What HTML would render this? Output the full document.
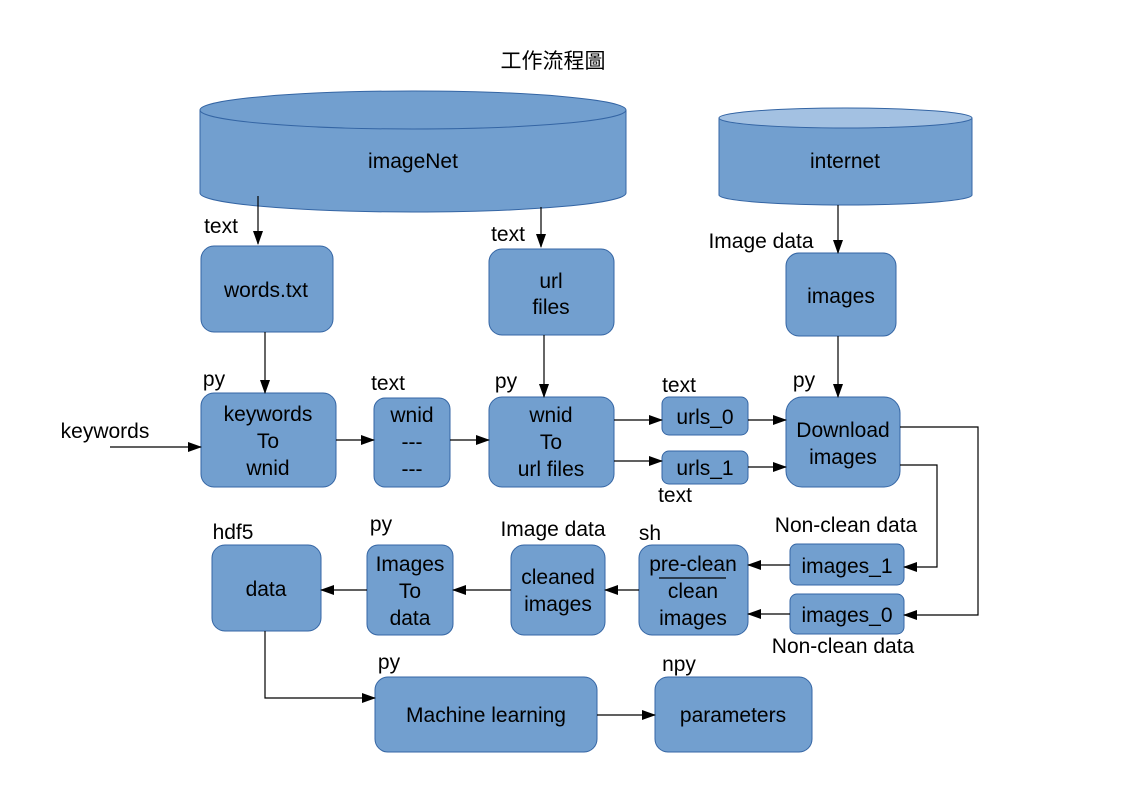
<!DOCTYPE html>
<html><head><meta charset="utf-8"><style>body{margin:0;background:#fff}svg{display:block}text{font-family:"Liberation Sans","Noto Sans CJK TC",sans-serif;font-size:21px;fill:#000}</style></head><body>
<svg width="1123" height="794" viewBox="0 0 1123 794">
<defs><marker id="a" markerWidth="14" markerHeight="10" refX="13" refY="5" orient="auto" markerUnits="userSpaceOnUse"><path d="M0,0 L14,5 L0,10 z" fill="#000"/></marker></defs>
<g fill="#729fcf" stroke="#3465a4" stroke-width="1">
<path d="M200,110 L200,193 A213,19 0 0 0 626,193 L626,110"/>
<ellipse cx="413" cy="110" rx="213" ry="19"/>
<path d="M719,118 L719,195 A126.5,10 0 0 0 972,195 L972,118"/>
<ellipse cx="845.5" cy="118" rx="126.5" ry="10" fill="#a3c1e2"/>
<rect x="201" y="246" width="132" height="86" rx="13"/>
<rect x="489" y="249" width="125" height="86" rx="13"/>
<rect x="786" y="253" width="110" height="83" rx="13"/>
<rect x="201" y="393" width="135" height="94" rx="13"/>
<rect x="374" y="398" width="76" height="89" rx="11"/>
<rect x="489" y="397" width="125" height="90" rx="13"/>
<rect x="662" y="397" width="86" height="38" rx="7"/>
<rect x="662" y="451" width="86" height="33" rx="7"/>
<rect x="786" y="397" width="114" height="90" rx="16"/>
<rect x="790" y="544" width="114" height="41" rx="7"/>
<rect x="790" y="594" width="114" height="40" rx="7"/>
<rect x="639" y="545" width="109" height="90" rx="13"/>
<rect x="511" y="545" width="94" height="90" rx="13"/>
<rect x="367" y="545" width="86" height="90" rx="11"/>
<rect x="212" y="545" width="109" height="86" rx="13"/>
<rect x="375" y="677" width="222" height="75" rx="13"/>
<rect x="655" y="677" width="157" height="75" rx="13"/>
</g>
<g stroke="#000" stroke-width="1.2" fill="none" marker-end="url(#a)">
<path d="M258,196 V244"/><path d="M541,207 V247"/><path d="M838,205 V253"/>
<path d="M265,332 V393"/><path d="M544,335 V397"/><path d="M838,336 V397"/>
<path d="M110,447 H201"/><path d="M336,440 H374"/><path d="M450,440 H489"/>
<path d="M614,420 H662"/><path d="M614,461 H662"/><path d="M748,420 H786"/><path d="M748,467 H786"/>
<path d="M900,427 H978 V615 H904"/><path d="M900,465 H937 V567 H904"/>
<path d="M790,565 H748"/><path d="M790,614 H748"/>
<path d="M639,590 H605"/><path d="M511,590 H453"/><path d="M367,590 H321"/>
<path d="M265,631 V698 H375"/><path d="M597,715 H655"/>
</g>
<line x1="659" y1="578" x2="726" y2="578" stroke="#000" stroke-width="1.2"/>
<g text-anchor="middle">
<text x="553" y="68" font-size="22">工作流程圖</text>
<text x="413" y="168">imageNet</text>
<text x="845" y="168">internet</text>
<text x="266" y="297">words.txt</text>
<text x="551" y="288">url</text><text x="551" y="314">files</text>
<text x="841" y="303">images</text>
<text x="268" y="421">keywords</text><text x="268" y="448">To</text><text x="268" y="475">wnid</text>
<text x="412" y="422">wnid</text><text x="412" y="449">---</text><text x="412" y="476">---</text>
<text x="551" y="422">wnid</text><text x="551" y="449">To</text><text x="551" y="476">url files</text>
<text x="705" y="424">urls_0</text><text x="705" y="475">urls_1</text>
<text x="843" y="437">Download</text><text x="843" y="464">images</text>
<text x="847" y="573">images_1</text><text x="847" y="622">images_0</text>
<text x="693" y="571">pre-clean</text><text x="693" y="598">clean</text><text x="693" y="625">images</text>
<text x="558" y="584">cleaned</text><text x="558" y="611">images</text>
<text x="410" y="571">Images</text><text x="410" y="598">To</text><text x="410" y="625">data</text>
<text x="266" y="596">data</text>
<text x="486" y="722">Machine learning</text>
<text x="733" y="722">parameters</text>
<text x="221" y="233">text</text><text x="508" y="241">text</text><text x="761" y="248">Image data</text>
<text x="214" y="386">py</text><text x="388" y="390">text</text><text x="506" y="388">py</text>
<text x="679" y="392">text</text><text x="804" y="387">py</text><text x="675" y="502">text</text>
<text x="105" y="438">keywords</text>
<text x="846" y="532">Non-clean data</text><text x="843" y="653">Non-clean data</text>
<text x="233" y="539">hdf5</text><text x="381" y="531">py</text><text x="553" y="536">Image data</text>
<text x="650" y="540">sh</text><text x="389" y="669">py</text><text x="679" y="671">npy</text>
</g>
</svg>
</body></html>
